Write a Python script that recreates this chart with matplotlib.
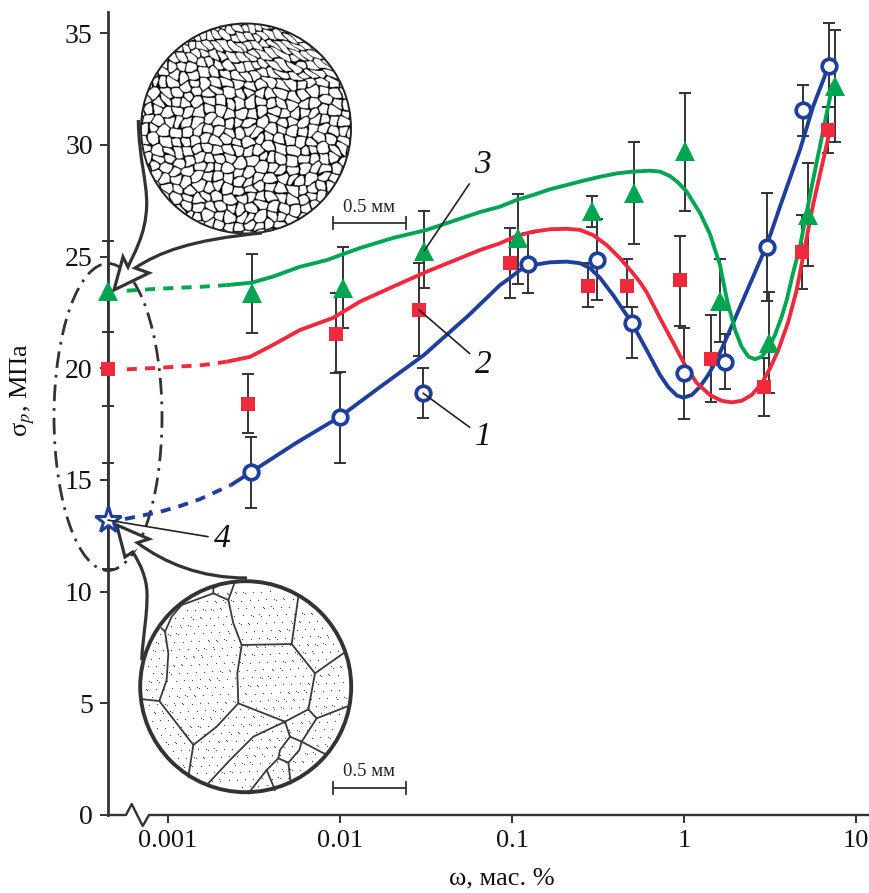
import numpy as np
import matplotlib
matplotlib.use("Agg")
import matplotlib.pyplot as plt
from matplotlib.patches import Circle, Ellipse, PathPatch
from matplotlib.path import Path

plt.rcParams['font.family'] = ['Liberation Serif', 'DejaVu Serif']
plt.rcParams['mathtext.fontset'] = 'stix'

W, H = 870, 893
DARK = '#333333'
BLUE = '#1f409a'
RED = '#ee2a3c'
GREEN = '#00a551'

# measured points: concentration, strength, lower and upper end of the error bar
x1 = [0.00304, 0.0100, 0.0304, 0.1233, 0.311, 0.4966, 1.00, 1.73, 3.03, 4.94, 6.97]
y1 = [15.34, 17.83, 18.88, 24.66, 24.84, 22.04, 19.77, 20.29, 25.41, 31.56, 33.53]
lo1 = [13.76, 15.76, 17.76, 23.38, 23.05, 20.47, 17.73, 19.07, 23.0, 30.4, 31.7]
hi1 = [16.92, 19.84, 20.0, 26.05, 26.68, 22.74, 21.8, 21.53, 27.84, 32.68, 35.45]

x2 = [0.00292, 0.00948, 0.0289, 0.0977, 0.275, 0.468, 0.952, 1.44, 2.91, 4.83, 6.87]
y2 = [18.4, 21.53, 22.6, 24.72, 23.69, 23.69, 23.93, 20.4, 19.14, 25.21, 30.66]
lo2 = [17.1, 19.79, 20.56, 23.16, 22.74, 22.74, 21.9, 18.5, 17.86, 23.55, 29.65]
hi2 = [19.74, 23.37, 24.72, 26.29, 24.71, 24.89, 25.93, 22.38, 20.47, 26.86, 31.7]

x3 = [0.00308, 0.01037, 0.0309, 0.108, 0.293, 0.514, 1.02, 1.61, 3.13, 5.26, 7.55]
y3 = [23.35, 23.58, 25.26, 25.83, 27.05, 27.86, 29.74, 23.02, 21.11, 26.87, 32.65]
lo3 = [21.56, 21.8, 23.58, 23.77, 26.33, 25.57, 27.04, 21.17, 18.89, 24.59, 30.14]
hi3 = [25.11, 25.41, 27.04, 27.8, 27.72, 30.14, 32.33, 24.89, 23.41, 29.2, 35.14]

# pure metal values, sitting on the axis break
x0 = 10.0 ** -3.349
y0 = [13.2, 19.95, 23.47]
lo0 = [11.0, 18.3, 21.6]
hi0 = [15.75, 21.6, 25.7]

# fitted curves, log10(concentration) and strength
curve1_lg = [-2.634, -2.517, -2.256, -2.0, -1.767, -1.512, -1.256, -1.07, -1.012, -0.953,
             -0.878, -0.779, -0.682, -0.605, -0.547, -0.488, -0.413, -0.304, -0.217, -0.14,
             -0.091, -0.042, -0.004, 0.045, 0.093, 0.141, 0.19, 0.238, 0.285, 0.343,
             0.481, 0.558, 0.674, 0.75, 0.843]
curve1_y = [14.77, 15.35, 16.65, 17.83, 19.16, 20.59, 22.34, 23.72, 24.04, 24.4,
            24.62, 24.74, 24.77, 24.7, 24.48, 24.04, 23.28, 22.04, 20.81, 19.7,
            19.15, 18.78, 18.68, 18.8, 19.17, 19.7, 20.37, 21.19, 22.02, 23.05,
            25.5, 27.23, 29.77, 31.7, 33.57]
dash1_lg = [-3.25, -3.192, -3.047, -2.93, -2.814, -2.634]
dash1_y = [13.25, 13.34, 13.57, 13.83, 14.14, 14.77]

curve2_lg = [-2.659, -2.523, -2.39, -2.233, -2.041, -1.884, -1.692, -1.496, -1.186, -1.07,
             -0.973, -0.878, -0.779, -0.682, -0.605, -0.529, -0.449, -0.372, -0.304, -0.256,
             -0.217, -0.14, -0.062, 0.006, 0.074, 0.151, 0.219, 0.277, 0.335, 0.393,
             0.452, 0.5, 0.548, 0.606, 0.655, 0.686, 0.75, 0.849]
curve2_y = [20.29, 20.51, 21.04, 21.71, 22.25, 22.98, 23.65, 24.32, 25.29, 25.59,
            25.92, 26.11, 26.22, 26.24, 26.19, 25.96, 25.51, 24.92, 24.32, 23.85,
            23.4, 22.25, 21.13, 20.14, 19.34, 18.8, 18.54, 18.47, 18.54, 18.8,
            19.32, 19.99, 20.81, 22.07, 23.5, 24.75, 27.3, 30.66]
dash2_lg = [-3.24, -3.047, -2.797, -2.659]
dash2_y = [19.95, 20.02, 20.14, 20.29]

curve3_lg = [-2.659, -2.513, -2.39, -2.233, -2.077, -1.884, -1.692, -1.496, -1.186, -1.07,
             -0.973, -0.878, -0.779, -0.682, -0.587, -0.488, -0.391, -0.297, -0.198, -0.14,
             -0.081, -0.033, 0.016, 0.052, 0.093, 0.151, 0.209, 0.25, 0.297, 0.335,
             0.374, 0.413, 0.452, 0.49, 0.529, 0.568, 0.597, 0.634, 0.674, 0.75, 0.866]
curve3_y = [23.72, 23.83, 24.1, 24.54, 24.84, 25.38, 25.83, 26.19, 26.99, 27.23,
            27.53, 27.75, 28.01, 28.2, 28.39, 28.57, 28.72, 28.8, 28.84, 28.8,
            28.6, 28.3, 27.9, 27.45, 26.95, 26.0, 24.62, 23.05, 21.71, 20.96,
            20.52, 20.4, 20.52, 20.89, 21.49, 22.31, 23.05, 24.26, 25.44, 28.42, 32.77]
dash3_lg = [-3.24, -3.047, -2.797, -2.659]
dash3_y = [23.47, 23.56, 23.65, 23.72]

yticks = [0, 5, 10, 15, 20, 25, 30, 35]
xticks = [0.001, 0.01, 0.1, 1, 10]
xticklabels = ['0.001', '0.01', '0.1', '1', '10']

fig = plt.figure(figsize=(W / 100, H / 100), dpi=100)

# pixel overlay for the micrographs and callouts, sits under the data
over = fig.add_axes([0, 0, 1, 1], zorder=1)
over.set_xlim(0, W)
over.set_ylim(H, 0)
over.axis('off')


def grain_texture(n=430):
    # dense grain network, boundaries of a warped jittered cell grid
    c = np.linspace(0, 212, n)
    px, py = np.meshgrid(c, c)
    squeeze = 1.0 + 0.5 * np.clip(1 - py / 60, 0, 1)
    u = (px + 1.8 * np.sin(py / 8.0) + 0.8 * np.sin(py / 2.7 + px / 5.0)) * squeeze / 10.5
    v = (py + 1.8 * np.sin(px / 9.0) + 0.8 * np.sin(px / 2.9 - py / 4.0)) / 9.5
    iu, iv = np.floor(u), np.floor(v)
    dists = []
    for di in (-1, 0, 1):
        for dj in (-1, 0, 1):
            ci, cj = iu + di, iv + dj
            a = np.sin(ci * 12.9898 + cj * 78.233) * 43758.5453
            b = np.sin(ci * 39.346 + cj * 11.135) * 24634.6345
            ja = 0.2 + 0.6 * (a - np.floor(a))
            jb = 0.2 + 0.6 * (b - np.floor(b))
            dists.append(np.hypot(ci + ja - u, cj + jb - v))
    dists = np.sort(np.array(dists), axis=0)
    return (dists[1] - dists[0]) > 0.13


cx, cy, r = 246, 128.5, 105
img = over.imshow(grain_texture(), cmap='gray', vmin=0, vmax=1, zorder=2,
                  extent=(cx - 106, cx + 106, cy + 106, cy - 106), interpolation='bilinear')
img.set_clip_path(Circle((cx, cy), r, transform=over.transData))
over.set_xlim(0, W)
over.set_ylim(H, 0)
over.add_patch(Circle((cx, cy), r, fc='none', ec='#222222', lw=1.4, zorder=3))

# coarse grains, traced in 3x zoom coordinates
grains = [
    [(430, 778), (478, 783), (500, 720), (505, 640), (495, 575), (485, 565)],
    [(495, 575), (515, 530), (545, 495), (640, 460), (685, 480), (705, 425)],
    [(640, 460), (640, 445), (665, 430)],
    [(685, 480), (700, 550), (725, 615), (875, 612), (895, 470)],
    [(725, 615), (712, 700), (715, 790), (855, 845), (925, 808), (945, 700), (875, 612)],
    [(945, 700), (1030, 640)],
    [(925, 808), (950, 835), (1040, 800)],
    [(715, 790), (650, 860), (580, 915), (478, 783)],
    [(580, 915), (565, 1010)],
    [(855, 845), (760, 890), (690, 960), (625, 1030)],
    [(855, 845), (870, 890), (905, 905), (950, 835)],
    [(905, 905), (975, 942)],
    [(870, 890), (840, 930), (835, 955), (865, 968), (898, 930), (905, 905)],
    [(835, 955), (800, 990), (745, 1060)],
    [(800, 990), (825, 1050)],
    [(865, 968), (872, 1030)],
]
for g in grains:
    gx = [p[0] / 3 for p in g]
    gy = [p[1] / 3 + 440 for p in g]
    over.plot(gx, gy, color='#3a3a3a', lw=1.3, zorder=3, solid_joinstyle='round')

# stipple inside the lower micrograph
k = np.arange(1, 900)
sx = 245.7 + 210 * ((k * 0.6180339) % 1 - 0.5)
sy = 686.7 + 210 * ((k * 0.7548777) % 1 - 0.5)
inside = np.hypot(sx - 245.7, sy - 686.7) < 101
over.scatter(sx[inside], sy[inside], s=0.8, color='#444444', lw=0, zorder=3)
over.add_patch(Circle((245.7, 686.7), 105.5, fc='none', ec=DARK, lw=2.8, zorder=4))

# callouts from the micrographs to the axis
M, C, L = Path.MOVETO, Path.CURVE4, Path.LINETO
top_call = Path(
    [(138.3, 120), (139, 160), (147, 180), (146.7, 205), (146, 235), (133, 255), (128, 267),
     (123, 257), (114, 290), (149, 273), (135, 268),
     (160, 252), (190, 240), (262, 233)],
    [M, C, C, C, C, C, C, L, L, L, L, C, C, C])
low_call = Path(
    [(141.7, 660), (143, 635), (147.5, 615), (147, 593), (146.5, 578), (141, 565), (132.7, 552),
     (125, 557), (116.7, 525), (149, 539), (137.3, 542.7),
     (165, 563), (200, 578), (247, 578)],
    [M, C, C, C, C, C, C, L, L, L, L, C, C, C])

# dash-dot outline round the pure metal points
over.add_patch(Ellipse((108, 417), 108, 307, fc='none', ec=DARK, lw=2.0,
                       ls=(0, (6, 2.5, 1, 2.5)), zorder=2))
over.add_patch(PathPatch(Path([(123, 257), (114, 290), (149, 273), (128, 267)]), fc='white', ec='none', zorder=2))
over.add_patch(PathPatch(Path([(125, 557), (116.7, 525), (149, 539), (133, 552)]), fc='white', ec='none', zorder=2))
over.add_patch(PathPatch(top_call, fc='none', ec=DARK, lw=2.3, zorder=3))
over.add_patch(PathPatch(low_call, fc='none', ec=DARK, lw=2.3, zorder=3))

# scale bars
for yb, yt in [(222.7, 208), (788, 772)]:
    over.plot([333, 406], [yb, yb], color=DARK, lw=1.3, zorder=5)
    over.plot([333, 333], [yb - 6, yb + 6], color=DARK, lw=1.3, zorder=5)
    over.plot([406, 406], [yb - 6, yb + 6], color=DARK, lw=1.3, zorder=5)
    over.text(369.5, yt, '0.5 мм', ha='center', va='center', fontsize=13.5, color='#222222', zorder=5)

# axis break on the bottom line
over.plot([108, 126, 131.7, 142.7, 149, 868], [815, 815, 804, 826, 815, 815], color=DARK, lw=1.7, zorder=5)

# data axes, log in x
ax = fig.add_axes([108 / W, (H - 815) / H, 760 / W, 803 / H], zorder=2)
ax.patch.set_alpha(0)
ax.set_xscale('log')
ax.set_xlim(x0, 10.0 ** ((868 - 684) / 172))
ax.set_ylim(0, 803 / 22.34)

for xs, ys, lo, hi in [(x1, y1, lo1, hi1), (x2, y2, lo2, hi2), (x3, y3, lo3, hi3)]:
    err = [np.array(ys) - np.array(lo), np.array(hi) - np.array(ys)]
    ax.errorbar(xs, ys, yerr=err, fmt='none', ecolor=DARK, elinewidth=1.4,
                capsize=4.3, capthick=1.4, zorder=2, clip_on=False)
y0a = np.array(y0)
ax.errorbar([x0] * 3, y0, yerr=[y0a - np.array(lo0), np.array(hi0) - y0a], fmt='none', ecolor=DARK,
            elinewidth=1.4, capsize=4.3, capthick=1.4, zorder=2, clip_on=False)

for lg, ys, col in [(curve1_lg, curve1_y, BLUE), (curve2_lg, curve2_y, RED), (curve3_lg, curve3_y, GREEN)]:
    ax.plot(10.0 ** np.array(lg), ys, color=col, lw=2.8, zorder=3, solid_capstyle='butt',
            solid_joinstyle='round')
for lg, ys, col in [(dash1_lg, dash1_y, BLUE), (dash2_lg, dash2_y, RED), (dash3_lg, dash3_y, GREEN)]:
    ax.plot(10.0 ** np.array(lg), ys, color=col, lw=2.8, zorder=3, ls=(0, (2.6, 2.1)))

ax.plot(x2, y2, 's', color=RED, ms=10.5, mew=0, zorder=4, clip_on=False)
ax.plot(x3, y3, '^', color=GREEN, ms=15, mew=0, zorder=5, clip_on=False)
ax.plot(x1, y1, 'o', mfc='white', mec=BLUE, ms=10.5, mew=2.7, zorder=6, clip_on=False)
ax.plot([x0], [y0[1]], 's', color=RED, ms=10.5, mew=0, zorder=4, clip_on=False)
ax.plot([x0], [y0[2]], '^', color=GREEN, ms=15, mew=0, zorder=5, clip_on=False)
ax.plot([x0], [y0[0]], '*', mfc='white', mec=BLUE, ms=20, mew=2.2, zorder=6, clip_on=False)

# curve labels with leader lines
labels = [('1', x1[2], y1[2], 483, 437), ('2', x2[2], y2[2], 483, 365),
          ('3', x3[2], y3[2], 482, 165), ('4', x0, y0[0], 222, 539)]
for name, lx, ly, tx, ty in labels:
    ax.annotate(name, xy=(lx, ly), xytext=(tx, H - ty), textcoords='figure pixels',
                fontsize=24, style='italic', ha='center', va='center', color='#111111',
                annotation_clip=False, zorder=7,
                arrowprops=dict(arrowstyle='-', color='#222222', lw=1.2, shrinkA=2, shrinkB=0))

for side in ['top', 'right', 'bottom']:
    ax.spines[side].set_visible(False)
ax.spines['left'].set_color(DARK)
ax.spines['left'].set_linewidth(2.0)
ax.set_yticks(yticks)
ax.set_xticks(xticks)
ax.set_xticklabels(xticklabels)
ax.minorticks_off()
ax.tick_params(axis='y', length=6, width=1.4, color=DARK, labelsize=20, pad=5, labelcolor='#111111')
ax.tick_params(axis='x', length=6, width=1.4, color=DARK, labelsize=19, pad=5, labelcolor='#111111')
ax.set_xlabel('ω, мас. %', fontsize=19, color='#111111')
ax.xaxis.set_label_coords(0.518, -0.0655)
ax.set_ylabel('σ$_{p}$, МПа', fontsize=19, color='#111111')
ax.yaxis.set_label_coords(-0.094, 0.529)

fig.savefig('out.png', dpi=100)
